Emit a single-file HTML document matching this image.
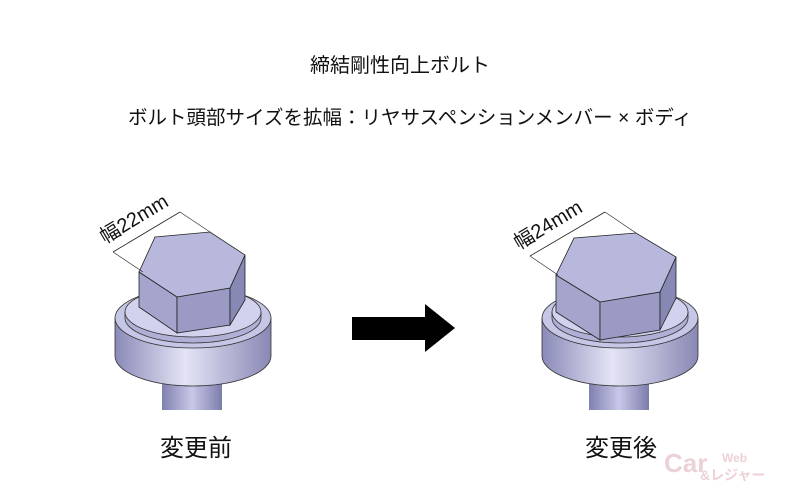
<!DOCTYPE html>
<html><head><meta charset="utf-8"><style>
body{margin:0;background:#fff;}
svg{display:block}
text{font-family:"Liberation Sans","Noto Sans CJK JP",sans-serif;fill:#111}
</style></head><body>
<svg width="800" height="500" viewBox="0 0 800 500">
<defs>
<linearGradient id="side" x1="0" x2="1">
<stop offset="0" stop-color="#8a8ab8"/><stop offset="0.45" stop-color="#e4e4f6"/><stop offset="1" stop-color="#8888b4"/>
</linearGradient>
<linearGradient id="shank" x1="0" x2="1">
<stop offset="0" stop-color="#8080b0"/><stop offset="0.5" stop-color="#c8c8e8"/><stop offset="1" stop-color="#7c7cac"/>
</linearGradient>
<g id="base">
<rect x="162" y="360" width="60" height="50" fill="url(#shank)"/>
<path d="M115 318 L115 356 A78 30 0 0 0 271 356 L271 318 Z" fill="url(#side)" stroke="#333" stroke-width="0.8"/>
<ellipse cx="193" cy="318" rx="78" ry="30" fill="#c6c6e6" stroke="#333" stroke-width="0.8"/>
<path d="M125 312 L125 318 A68 25 0 0 0 261 318 L261 312" fill="#b0b0d6" stroke="#333" stroke-width="0.8"/>
<ellipse cx="193" cy="312" rx="68" ry="25" fill="#d2d2ee" stroke="#333" stroke-width="0.8"/>
</g>
</defs>
<text x="400" y="72" font-size="20" text-anchor="middle">締結剛性向上ボルト</text>
<text x="410" y="124" font-size="19.5" text-anchor="middle">ボルト頭部サイズを拡幅：リヤサスペンションメンバー × ボディ</text>

<use href="#base"/>
<polygon points="139,272 177,297 177,333 139,307" fill="#a4a4cc" stroke="#222" stroke-width="0.8"/>
<polygon points="177,297 230,288 230,325 177,333" fill="#9a9ac4" stroke="#222" stroke-width="0.8"/>
<polygon points="230,288 245,255 245,300 230,325" fill="#8888b4" stroke="#222" stroke-width="0.8"/>
<polygon points="155,237 210,232 245,255 230,288 177,297 139,272" fill="#b8b8dc" stroke="#222" stroke-width="0.8"/>
<line x1="113" y1="252" x2="180" y2="212" stroke="#222" stroke-width="0.8"/>
<line x1="113" y1="252" x2="143" y2="272" stroke="#222" stroke-width="0.6"/>
<line x1="180" y1="212" x2="210" y2="232" stroke="#222" stroke-width="0.6"/>
<text x="0" y="0" font-size="20" transform="translate(105,244) rotate(-31)">幅22mm</text>

<g transform="translate(427,0)"><use href="#base"/></g>
<polygon points="556,275 600,302 600,340 556,312" fill="#a4a4cc" stroke="#222" stroke-width="0.8"/>
<polygon points="600,302 660,292 660,330 600,340" fill="#9a9ac4" stroke="#222" stroke-width="0.8"/>
<polygon points="660,292 676,257 676,298 660,330" fill="#8888b4" stroke="#222" stroke-width="0.8"/>
<polygon points="574,238 636,233 676,257 660,292 600,302 556,275" fill="#b8b8dc" stroke="#222" stroke-width="0.8"/>
<line x1="530" y1="256" x2="605" y2="212" stroke="#222" stroke-width="0.8"/>
<line x1="530" y1="256" x2="558" y2="275" stroke="#222" stroke-width="0.6"/>
<line x1="605" y1="212" x2="636" y2="233" stroke="#222" stroke-width="0.6"/>
<text x="0" y="0" font-size="20" transform="translate(519,250) rotate(-31)">幅24mm</text>

<polygon points="352,317 425,317 425,304 455,328 425,352 425,340 352,340" fill="#000"/>
<text x="196" y="456" font-size="24" text-anchor="middle">変更前</text>
<text x="621" y="456" font-size="24" text-anchor="middle">変更後</text>
<text x="664" y="472" font-size="26" font-weight="bold" style="fill:#ecd2d6">Car</text>
<text x="722" y="462" font-size="12" font-weight="bold" style="fill:#ecd2d6">Web</text>
<text x="700" y="480" font-size="14" font-weight="bold" style="fill:#ecd2d6">&amp;レジャー</text>
</svg>
</body></html>
